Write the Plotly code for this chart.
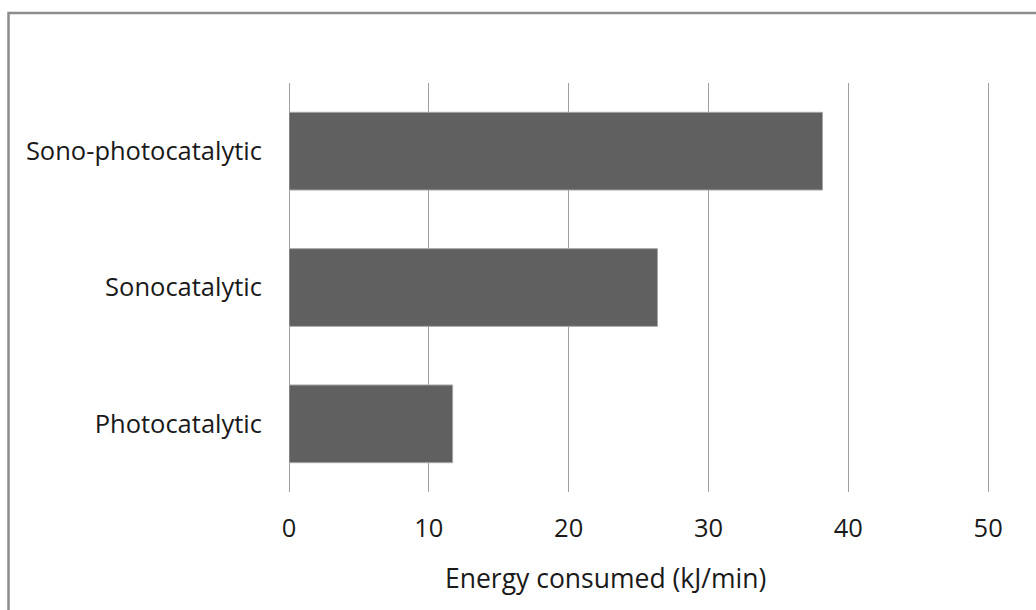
import plotly.graph_objects as go

# Energy consumption per treatment process
processes = ["Photocatalytic", "Sonocatalytic", "Sono-photocatalytic"]
energy_kj_min = [11.7, 26.35, 38.15]
x_ticks = [0, 10, 20, 30, 40, 50]

W, H = 1036, 610
L, R, T, B = 289, 45, 83, 118
pw, ph = W - L - R, H - T - B

def px_x(p):
    return (p - L) / pw

def px_y(p):
    return (H - B - p) / ph

FONT = "Open Sans"
FS = 25.5
TXT = "#1a1a1a"
GRID = "#a0a0a0"

fig = go.Figure(
    go.Bar(
        y=processes,
        x=energy_kj_min,
        orientation="h",
        marker=dict(color="#606060", line=dict(color="#a6a6a6", width=1)),
        width=0.57,
    )
)

fig.update_layout(
    width=W,
    height=H,
    margin=dict(l=L, r=R, t=T, b=B),
    paper_bgcolor="white",
    plot_bgcolor="white",
    showlegend=False,
    font=dict(family=FONT, size=FS, color=TXT),
    xaxis=dict(
        range=[0, 50.2],
        tickvals=x_ticks,
        showgrid=True,
        gridcolor=GRID,
        gridwidth=1,
        zeroline=True,
        zerolinecolor=GRID,
        zerolinewidth=1,
        showline=False,
        ticks="",
        ticklabelstandoff=18,
        tickfont=dict(family=FONT, size=FS, color=TXT),
    ),
    yaxis=dict(
        range=[-0.5, 2.5],
        showgrid=False,
        zeroline=False,
        showline=False,
        ticks="",
        ticklabelstandoff=26,
        tickfont=dict(family=FONT, size=FS, color=TXT),
    ),
    annotations=[
        dict(
            text="Energy consumed (kJ/min)",
            xref="paper",
            yref="paper",
            x=px_x(605),
            y=px_y(578),
            xanchor="center",
            yanchor="middle",
            showarrow=False,
            font=dict(family=FONT, size=26.5, color=TXT),
        )
    ],
    shapes=[
        dict(
            type="rect",
            xref="paper",
            yref="paper",
            x0=px_x(8.5),
            y0=px_y(620),
            x1=px_x(1046),
            y1=px_y(13),
            line=dict(color="#8c8c8c", width=2.5),
            fillcolor="rgba(0,0,0,0)",
            layer="below",
        )
    ],
)

fig.write_html("out.html")
